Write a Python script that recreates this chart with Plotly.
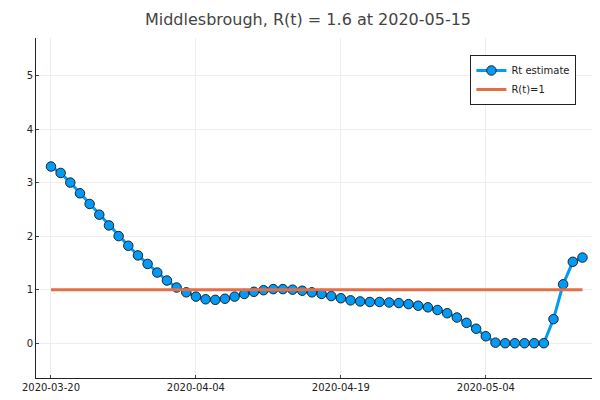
import plotly.graph_objects as go
import pandas as pd

start = "2020-03-20"
rt = [3.3,3.18,3.0,2.8,2.6,2.4,2.2,2.0,1.82,1.64,1.48,1.32,1.17,1.04,
      0.95,0.87,0.82,0.81,0.83,0.87,0.92,0.96,0.99,1.01,1.01,1.0,0.98,0.95,0.92,0.88,
      0.84,0.8,0.78,0.77,0.77,0.76,0.75,0.73,0.7,0.67,0.62,0.56,0.48,0.38,0.27,0.13,
      0.01,0,0,0,0,0,0.45,1.1,1.52,1.6]
dates = pd.date_range(start, periods=len(rt), freq="D")
tickvals = ["2020-03-20","2020-04-04","2020-04-19","2020-05-04"]

fig = go.Figure()
fig.add_trace(go.Scatter(x=dates, y=rt, mode="lines+markers", name="Rt estimate",
    line=dict(color="#009af9", width=3),
    marker=dict(size=9.5, color="#009af9", line=dict(color="#222", width=1))))
fig.add_trace(go.Scatter(x=[dates[0], dates[-1]], y=[1,1], mode="lines", name="R(t)=1",
    line=dict(color="#e26f46", width=3)))

fig.update_layout(width=600, height=400, plot_bgcolor="white", paper_bgcolor="white",
    margin=dict(l=28, r=12, t=30, b=30, autoexpand=False),
    font=dict(family="DejaVu Sans", size=10, color="#222"),
    title=dict(text="Middlesbrough, R(t) = 1.6 at 2020-05-15", x=0.5, xanchor="center",
               y=0.985, yanchor="top", font=dict(size=16, color="#444")),
    legend=dict(x=0.965, y=0.95, xanchor="right", yanchor="top", bordercolor="#222",
                borderwidth=1, bgcolor="white", font=dict(size=10)),
    showlegend=True)
fig.update_xaxes(range=[pd.Timestamp(start)-pd.Timedelta(days=1.55), pd.Timestamp(start)+pd.Timedelta(days=56.4)],
    tickvals=tickvals, ticktext=tickvals, showgrid=True, gridcolor="#eee", automargin=False,
    showline=True, linecolor="#222", zeroline=False, ticks="inside", ticklen=3)
fig.update_yaxes(range=[-0.65, 5.7], tickvals=[0,1,2,3,4,5], showgrid=True, gridcolor="#eee", automargin=False,
    showline=True, linecolor="#222", zeroline=False, ticks="inside", ticklen=3)
fig.write_html("out.html")
